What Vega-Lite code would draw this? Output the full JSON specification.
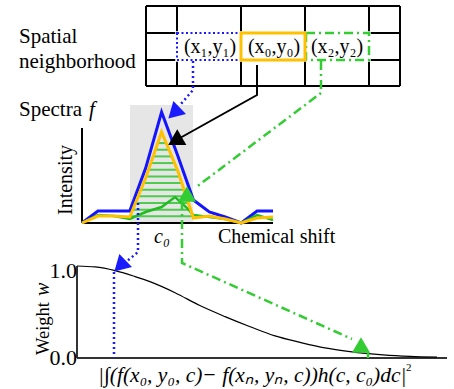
{
  "$schema": "https://vega.github.io/schema/vega-lite/v6.json",
  "width": 454,
  "height": 389,
  "padding": 0,
  "autosize": {"type": "none"},
  "background": "white",
  "config": {"view": {"stroke": null}, "axis": {"disable": true}, "text": {"font": "Liberation Serif"}},
  "datasets": {
    "grid": [
      {"x": 146, "y": 6, "x2": 146, "y2": 86},
      {"x": 177, "y": 6, "x2": 177, "y2": 86},
      {"x": 241, "y": 6, "x2": 241, "y2": 86},
      {"x": 305, "y": 6, "x2": 305, "y2": 86},
      {"x": 369, "y": 6, "x2": 369, "y2": 86},
      {"x": 400, "y": 6, "x2": 400, "y2": 86},
      {"x": 146, "y": 6, "x2": 400, "y2": 6},
      {"x": 146, "y": 33, "x2": 400, "y2": 33},
      {"x": 146, "y": 60, "x2": 400, "y2": 60},
      {"x": 146, "y": 86, "x2": 400, "y2": 86}
    ],
    "spectra": [
      {"pixel": "(x1,y1)", "ch": 0, "intensity": 0},
      {"pixel": "(x1,y1)", "ch": 1, "intensity": 0.108},
      {"pixel": "(x1,y1)", "ch": 2, "intensity": 0.108},
      {"pixel": "(x1,y1)", "ch": 3, "intensity": 0.108},
      {"pixel": "(x1,y1)", "ch": 4, "intensity": 0.495},
      {"pixel": "(x1,y1)", "ch": 5, "intensity": 1.0},
      {"pixel": "(x1,y1)", "ch": 6, "intensity": 0.613},
      {"pixel": "(x1,y1)", "ch": 7, "intensity": 0.207},
      {"pixel": "(x1,y1)", "ch": 8, "intensity": 0.099},
      {"pixel": "(x1,y1)", "ch": 9, "intensity": 0.054},
      {"pixel": "(x1,y1)", "ch": 10, "intensity": 0},
      {"pixel": "(x1,y1)", "ch": 11, "intensity": 0.108},
      {"pixel": "(x1,y1)", "ch": 12, "intensity": 0.108},
      {"pixel": "(x0,y0)", "ch": 0, "intensity": 0},
      {"pixel": "(x0,y0)", "ch": 1, "intensity": 0.063},
      {"pixel": "(x0,y0)", "ch": 2, "intensity": 0.063},
      {"pixel": "(x0,y0)", "ch": 3, "intensity": 0.054},
      {"pixel": "(x0,y0)", "ch": 4, "intensity": 0.405},
      {"pixel": "(x0,y0)", "ch": 5, "intensity": 0.82},
      {"pixel": "(x0,y0)", "ch": 6, "intensity": 0.477},
      {"pixel": "(x0,y0)", "ch": 7, "intensity": 0.045},
      {"pixel": "(x0,y0)", "ch": 8, "intensity": 0.063},
      {"pixel": "(x0,y0)", "ch": 9, "intensity": 0.036},
      {"pixel": "(x0,y0)", "ch": 10, "intensity": 0},
      {"pixel": "(x0,y0)", "ch": 11, "intensity": 0.045},
      {"pixel": "(x0,y0)", "ch": 12, "intensity": 0.054},
      {"pixel": "(x2,y2)", "ch": 0, "intensity": 0},
      {"pixel": "(x2,y2)", "ch": 1, "intensity": 0.072},
      {"pixel": "(x2,y2)", "ch": 2, "intensity": 0.063},
      {"pixel": "(x2,y2)", "ch": 3, "intensity": 0.036},
      {"pixel": "(x2,y2)", "ch": 4, "intensity": 0.099},
      {"pixel": "(x2,y2)", "ch": 5, "intensity": 0.144},
      {"pixel": "(x2,y2)", "ch": 5.85, "intensity": 0.234},
      {"pixel": "(x2,y2)", "ch": 6.6, "intensity": 0.135},
      {"pixel": "(x2,y2)", "ch": 7, "intensity": 0.072},
      {"pixel": "(x2,y2)", "ch": 8, "intensity": 0.054},
      {"pixel": "(x2,y2)", "ch": 9, "intensity": 0.036},
      {"pixel": "(x2,y2)", "ch": 10, "intensity": 0},
      {"pixel": "(x2,y2)", "ch": 11, "intensity": 0.072},
      {"pixel": "(x2,y2)", "ch": 12, "intensity": 0.027}
    ],
    "hatch": [
      {"intensity": 0.06, "ch": 3.02, "ch2": 6.96},
      {"intensity": 0.12, "ch": 3.19, "ch2": 6.83},
      {"intensity": 0.18, "ch": 3.36, "ch2": 6.69},
      {"intensity": 0.24, "ch": 3.53, "ch2": 6.55},
      {"intensity": 0.30, "ch": 3.70, "ch2": 6.41},
      {"intensity": 0.36, "ch": 3.87, "ch2": 6.27},
      {"intensity": 0.42, "ch": 4.04, "ch2": 6.13},
      {"intensity": 0.48, "ch": 4.18, "ch2": 5.99},
      {"intensity": 0.54, "ch": 4.33, "ch2": 5.82},
      {"intensity": 0.60, "ch": 4.47, "ch2": 5.64},
      {"intensity": 0.66, "ch": 4.61, "ch2": 5.47},
      {"intensity": 0.72, "ch": 4.76, "ch2": 5.29}
    ],
    "weight": [
      {"d": 0, "w": 1.0},
      {"d": 0.049, "w": 0.99},
      {"d": 0.103, "w": 0.95},
      {"d": 0.157, "w": 0.885},
      {"d": 0.197, "w": 0.83},
      {"d": 0.265, "w": 0.71},
      {"d": 0.332, "w": 0.57},
      {"d": 0.4, "w": 0.45},
      {"d": 0.468, "w": 0.34},
      {"d": 0.535, "w": 0.24},
      {"d": 0.603, "w": 0.17},
      {"d": 0.67, "w": 0.11},
      {"d": 0.738, "w": 0.07},
      {"d": 0.827, "w": 0.035},
      {"d": 0.9, "w": 0.018},
      {"d": 0.973, "w": 0.009}
    ],
    "blueLinks": [
      {"path": "a", "k": 0, "x": 193, "y": 61},
      {"path": "a", "k": 1, "x": 193, "y": 90},
      {"path": "a", "k": 2, "x": 180, "y": 105},
      {"path": "b", "k": 0, "x": 138, "y": 203},
      {"path": "b", "k": 1, "x": 138, "y": 252},
      {"path": "b", "k": 2, "x": 126, "y": 262},
      {"path": "c", "k": 0, "x": 114, "y": 272},
      {"path": "c", "k": 1, "x": 114, "y": 358}
    ],
    "blackLinks": [
      {"path": "a", "k": 0, "x": 257, "y": 65},
      {"path": "a", "k": 1, "x": 257, "y": 95},
      {"path": "a", "k": 2, "x": 180, "y": 138}
    ],
    "greenLinks": [
      {"path": "a", "k": 0, "x": 321, "y": 61},
      {"path": "a", "k": 1, "x": 321, "y": 93},
      {"path": "a", "k": 2, "x": 195, "y": 188},
      {"path": "b", "k": 0, "x": 182, "y": 201},
      {"path": "b", "k": 1, "x": 182, "y": 263},
      {"path": "b", "k": 2, "x": 352, "y": 339},
      {"path": "c", "k": 0, "x": 368, "y": 352},
      {"path": "c", "k": 1, "x": 368, "y": 358}
    ]
  },
  "resolve": {"scale": {"x": "independent", "y": "independent"}},
  "layer": [
    {
      "encoding": {
        "x": {"field": "x", "type": "quantitative", "scale": {"domain": [0, 454], "range": [0, 454], "nice": false, "zero": false}},
        "y": {"field": "y", "type": "quantitative", "scale": {"domain": [0, 389], "range": [0, 389], "nice": false, "zero": false}}
      },
      "layer": [
        {
          "data": {"values": [{"x": 130, "x2": 193, "y": 105, "y2": 223}]},
          "mark": {"type": "rect", "fill": "#e6e6e6"},
          "encoding": {"x2": {"field": "x2"}, "y2": {"field": "y2"}}
        },
        {
          "data": {"name": "grid"},
          "mark": {"type": "rule", "stroke": "black", "strokeWidth": 2},
          "encoding": {"x2": {"field": "x2"}, "y2": {"field": "y2"}}
        },
        {
          "data": {"values": [{"x": 177, "x2": 241, "y": 33, "y2": 60}, {"x": 306, "x2": 369, "y": 33, "y2": 60}]},
          "mark": {"type": "rect", "filled": false, "stroke": "white", "strokeWidth": 3.5},
          "encoding": {"x2": {"field": "x2"}, "y2": {"field": "y2"}}
        },
        {
          "data": {"values": [{"x": 177, "x2": 241, "y": 33, "y2": 60}]},
          "mark": {"type": "rect", "filled": false, "stroke": "#1a1aff", "strokeWidth": 2, "strokeDash": [2, 2.5]},
          "encoding": {"x2": {"field": "x2"}, "y2": {"field": "y2"}}
        },
        {
          "data": {"values": [{"x": 306, "x2": 369, "y": 33, "y2": 60}]},
          "mark": {"type": "rect", "filled": false, "stroke": "#33cc33", "strokeWidth": 2.5, "strokeDash": [9, 4, 2, 4]},
          "encoding": {"x2": {"field": "x2"}, "y2": {"field": "y2"}}
        },
        {
          "data": {"values": [{"x": 241, "x2": 305, "y": 33, "y2": 60}]},
          "mark": {"type": "rect", "filled": false, "stroke": "#ffc000", "strokeWidth": 3},
          "encoding": {"x2": {"field": "x2"}, "y2": {"field": "y2"}}
        },
        {
          "data": {"values": [{"x": 82, "y": 128, "x2": 82, "y2": 223}, {"x": 82, "y": 223, "x2": 273, "y2": 223}]},
          "mark": {"type": "rule", "stroke": "black", "strokeWidth": 2},
          "encoding": {"x2": {"field": "x2"}, "y2": {"field": "y2"}}
        },
        {
          "data": {"values": [{"x": 77, "y": 266, "x2": 77, "y2": 358}, {"x": 77, "y": 358, "x2": 447, "y2": 358}]},
          "mark": {"type": "rule", "stroke": "#333333", "strokeWidth": 2},
          "encoding": {"x2": {"field": "x2"}, "y2": {"field": "y2"}}
        },
        {
          "data": {"values": [{"t": "Spatial", "x": 19, "y": 43}, {"t": "neighborhood", "x": 19, "y": 68}, {"t": "Spectra", "x": 19, "y": 116}]},
          "mark": {"type": "text", "font": "Liberation Serif", "fontSize": 21, "align": "left", "baseline": "alphabetic", "color": "black"},
          "encoding": {"text": {"field": "t"}}
        },
        {
          "data": {"values": [{"t": "f", "x": 89, "y": 116}]},
          "mark": {"type": "text", "font": "Liberation Serif", "fontSize": 21, "fontStyle": "italic", "align": "left", "baseline": "alphabetic", "color": "black"},
          "encoding": {"text": {"field": "t"}}
        },
        {
          "data": {"values": [{"t": "(x₁,y₁)", "x": 210, "y": 53}, {"t": "(x₀,y₀)", "x": 274, "y": 53}, {"t": "(x₂,y₂)", "x": 337, "y": 53}]},
          "mark": {"type": "text", "font": "Liberation Serif", "fontSize": 20, "align": "center", "baseline": "alphabetic", "color": "black"},
          "encoding": {"text": {"field": "t"}}
        },
        {
          "data": {"values": [{"t": "Chemical shift", "x": 218, "y": 243}]},
          "mark": {"type": "text", "font": "Liberation Serif", "fontSize": 20, "align": "left", "baseline": "alphabetic", "color": "black"},
          "encoding": {"text": {"field": "t"}}
        },
        {
          "data": {"values": [{"t": "c₀", "x": 162, "y": 243}]},
          "mark": {"type": "text", "font": "Liberation Serif", "fontSize": 20, "fontStyle": "italic", "align": "center", "baseline": "alphabetic", "color": "black"},
          "encoding": {"text": {"field": "t"}}
        },
        {
          "data": {"values": [{"t": "Intensity", "x": 72, "y": 180}]},
          "mark": {"type": "text", "font": "Liberation Serif", "fontSize": 20, "angle": 270, "align": "center", "baseline": "alphabetic", "color": "black"},
          "encoding": {"text": {"field": "t"}}
        },
        {
          "data": {"values": [{"t": "Weight", "x": 49, "y": 355}]},
          "mark": {"type": "text", "font": "Liberation Serif", "fontSize": 18.5, "angle": 270, "align": "left", "baseline": "alphabetic", "color": "black"},
          "encoding": {"text": {"field": "t"}}
        },
        {
          "data": {"values": [{"t": "w", "x": 49, "y": 296}]},
          "mark": {"type": "text", "font": "Liberation Serif", "fontSize": 20, "fontStyle": "italic", "angle": 270, "align": "left", "baseline": "alphabetic", "color": "black"},
          "encoding": {"text": {"field": "t"}}
        },
        {
          "data": {"values": [{"t": "1.0", "x": 77, "y": 278}, {"t": "0.0", "x": 77, "y": 365}]},
          "mark": {"type": "text", "font": "Liberation Serif", "fontSize": 22, "align": "right", "baseline": "alphabetic", "color": "black"},
          "encoding": {"text": {"field": "t"}}
        },
        {
          "data": {"values": [{"t": "|∫(f(x₀, y₀, c)− f(xₙ, yₙ, c))h(c, c₀)dc|", "x": 98, "y": 382}]},
          "mark": {"type": "text", "font": "Liberation Serif", "fontSize": 21.5, "fontStyle": "italic", "align": "left", "baseline": "alphabetic", "color": "black"},
          "encoding": {"text": {"field": "t"}}
        },
        {
          "data": {"values": [{"t": "2", "x": 406, "y": 371}]},
          "mark": {"type": "text", "font": "Liberation Serif", "fontSize": 11, "align": "left", "baseline": "alphabetic", "color": "black"},
          "encoding": {"text": {"field": "t"}}
        }
      ]
    },
    {
      "data": {"name": "spectra"},
      "encoding": {
        "x": {"field": "ch", "type": "quantitative", "scale": {"domain": [0, 12], "range": [82, 273], "nice": false, "zero": false}},
        "y": {"field": "intensity", "type": "quantitative", "scale": {"domain": [0, 1], "range": [223, 112], "nice": false, "zero": false}}
      },
      "layer": [
        {
          "transform": [{"filter": "datum.pixel === '(x1,y1)'"}],
          "mark": {"type": "line", "stroke": "#1414ff", "strokeWidth": 3}
        },
        {
          "data": {"name": "hatch"},
          "mark": {"type": "rule", "stroke": "#3cc83c", "strokeWidth": 2, "opacity": 0.9},
          "encoding": {"x2": {"field": "ch2"}}
        },
        {
          "transform": [{"filter": "datum.pixel === '(x2,y2)'"}],
          "mark": {"type": "line", "stroke": "#22bb22", "strokeWidth": 2.5}
        },
        {
          "transform": [{"filter": "datum.pixel === '(x0,y0)'"}],
          "mark": {"type": "line", "stroke": "#ffc000", "strokeWidth": 3}
        }
      ]
    },
    {
      "data": {"name": "weight"},
      "mark": {"type": "line", "stroke": "black", "strokeWidth": 1.2, "interpolate": "monotone"},
      "encoding": {
        "x": {"field": "d", "type": "quantitative", "scale": {"domain": [0, 1], "range": [77, 447], "nice": false, "zero": false}},
        "y": {"field": "w", "type": "quantitative", "scale": {"domain": [0, 1], "range": [358, 266], "nice": false, "zero": false}}
      }
    },
    {
      "encoding": {
        "x": {"field": "x", "type": "quantitative", "scale": {"domain": [0, 454], "range": [0, 454], "nice": false, "zero": false}},
        "y": {"field": "y", "type": "quantitative", "scale": {"domain": [0, 389], "range": [0, 389], "nice": false, "zero": false}}
      },
      "layer": [
        {
          "data": {"name": "blueLinks"},
          "mark": {"type": "line", "stroke": "#1a1aff", "strokeWidth": 2.5, "strokeDash": [2, 3]},
          "encoding": {"detail": {"field": "path"}, "order": {"field": "k"}}
        },
        {
          "data": {"name": "blackLinks"},
          "mark": {"type": "line", "stroke": "black", "strokeWidth": 2},
          "encoding": {"detail": {"field": "path"}, "order": {"field": "k"}}
        },
        {
          "data": {"name": "greenLinks"},
          "mark": {"type": "line", "stroke": "#33cc33", "strokeWidth": 2.5, "strokeDash": [9, 4, 2, 4]},
          "encoding": {"detail": {"field": "path"}, "order": {"field": "k"}}
        },
        {
          "data": {"values": [{"x": 174, "y": 113}, {"x": 120, "y": 266}]},
          "mark": {"type": "point", "shape": "triangle-up", "filled": true, "fill": "#1a1aff", "stroke": null, "size": 330, "angle": 226, "opacity": 1}
        },
        {
          "data": {"values": [{"x": 175, "y": 141}]},
          "mark": {"type": "point", "shape": "triangle-up", "filled": true, "fill": "black", "stroke": null, "size": 330, "angle": 240, "opacity": 1}
        },
        {
          "data": {"values": [{"x": 187, "y": 194}, {"x": 361, "y": 345}]},
          "mark": {"type": "point", "shape": "triangle-up", "filled": true, "fill": "#33cc33", "stroke": null, "size": 330, "angle": 0, "opacity": 1}
        }
      ]
    }
  ]
}
